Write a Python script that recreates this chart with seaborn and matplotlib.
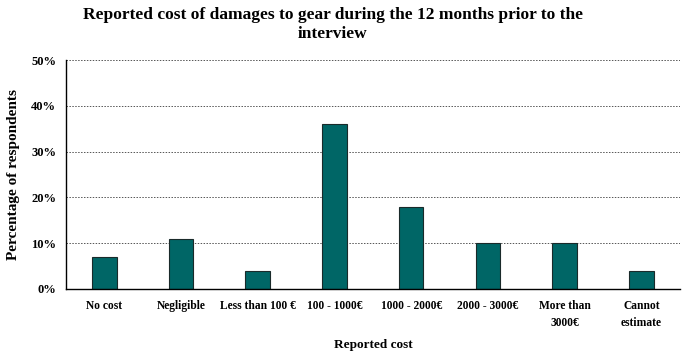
import numpy as np
import pandas as pd
import seaborn as sns
import matplotlib.pyplot as plt
from matplotlib.ticker import FixedLocator, PercentFormatter

# data
categories = ['No cost', 'Negligible', 'Less than 100 €', '100 - 1000€',
              '1000 - 2000€', '2000 - 3000€', 'More than\n3000€', 'Cannot\nestimate']
percent = [7, 11, 4, 36, 18, 10, 10, 4]

df = pd.DataFrame({'cost': categories, 'pct': percent})

sns.set_style('white')
plt.rcParams['font.family'] = ['Liberation Serif', 'DejaVu Serif']
plt.rcParams['font.weight'] = 'bold'
plt.rcParams['text.color'] = 'black'
plt.rcParams['axes.labelcolor'] = 'black'
plt.rcParams['xtick.color'] = 'black'
plt.rcParams['ytick.color'] = 'black'

fig = plt.figure(figsize=(6.86, 3.58), dpi=100)
ax = fig.add_axes([0.096, 0.193, 0.895, 0.639])

sns.barplot(data=df, x='cost', y='pct', order=categories, color='#006666',
            saturation=1, width=0.32, edgecolor='#1a2a2a', linewidth=0.8, ax=ax)

ax.set_xlim(-0.5, len(categories) - 0.5)
ax.set_ylim(0, 50)
ax.set_yticks([0, 10, 20, 30, 40, 50])
ax.yaxis.set_major_formatter(PercentFormatter(decimals=0))
ax.grid(axis='y', color='#555555', linestyle=(0, (1.5, 1.5)), linewidth=0.7)
ax.set_axisbelow(True)

for s in ['top', 'right']:
    ax.spines[s].set_visible(False)
for s in ['left', 'bottom']:
    ax.spines[s].set_color('black')
    ax.spines[s].set_linewidth(1.0)

ax.xaxis.set_minor_locator(FixedLocator(np.arange(-0.5, len(categories), 1)))
ax.tick_params(axis='x', which='major', length=0, pad=8, labelsize=8.3)
ax.tick_params(axis='x', which='minor', length=4, width=1, color='black', direction='out')
ax.tick_params(axis='y', length=3, width=1, color='black', direction='out', labelsize=9, pad=4)
for lab in ax.get_xticklabels():
    lab.set_fontweight('bold')
    lab.set_linespacing(1.5)
for lab in ax.get_yticklabels():
    lab.set_fontweight('bold')

ax.set_xlabel('Reported cost', fontsize=9.5, fontweight='bold')
ax.xaxis.set_label_coords(0.5, -0.22)
ax.set_ylabel('Percentage of respondents', fontsize=11, fontweight='bold', labelpad=8)
fig.suptitle('Reported cost of damages to gear during the 12 months prior to the\ninterview',
             fontsize=12.5, fontweight='bold', x=0.485, y=0.98, linespacing=1.25)

fig.savefig('out.png', dpi=100)
